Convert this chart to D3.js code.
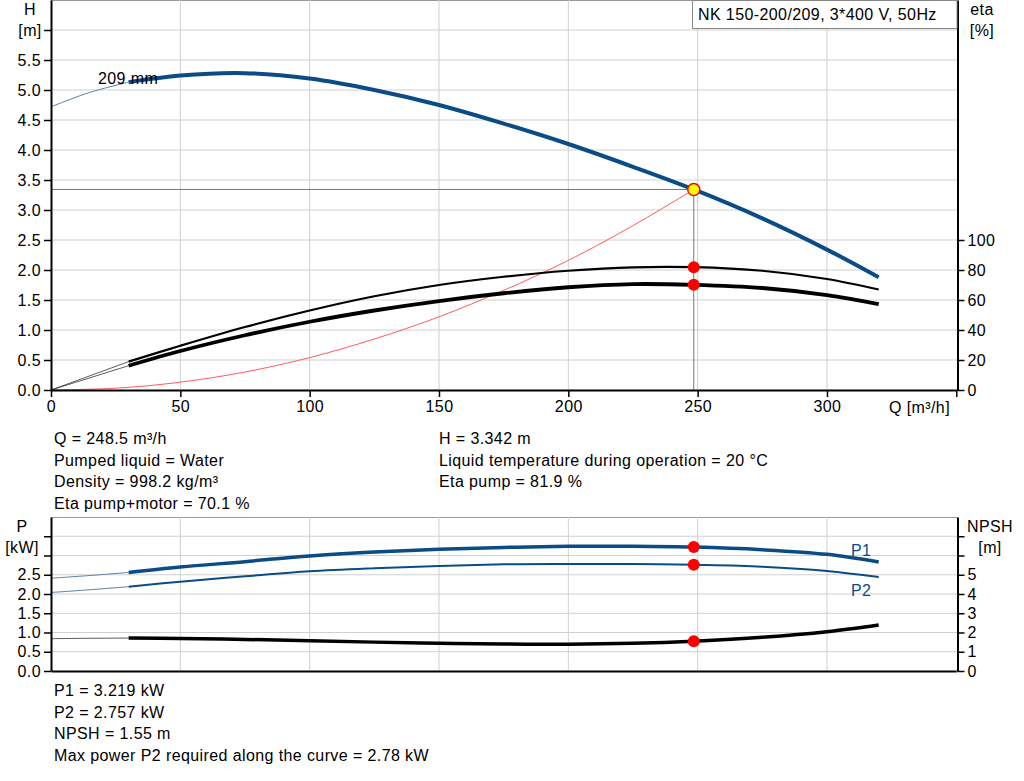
<!DOCTYPE html>
<html>
<head>
<meta charset="utf-8">
<script src="https://cdn.jsdelivr.net/npm/d3@7"></script>
<style>
  body { margin: 0; background: #fff; }
  svg { display: block; font-family: "Liberation Sans", Arial, sans-serif; }
  .grid line { stroke: #d0d0d0; stroke-width: 1; }
  .axis path, .axis line { stroke: #000; }
  .axis path { stroke-width: 2; }
  .axis line { stroke-width: 1.5; }
  .axis text { font-size: 16px; letter-spacing: 0.4px; fill: #000; font-family: "Liberation Sans", Arial, sans-serif; }
  .lbl { font-size: 16px; letter-spacing: 0.4px; fill: #000; }
</style>
</head>
<body>
<div id="chart"></div>
<script>
// flow points used by the curves (m3/h)
var qMain = [30, 50, 75, 100, 125, 150, 175, 200, 225, 248.5, 275, 300, 320];

// head curve (m), 209 mm impeller
var headMain = [5.13, 5.24, 5.28, 5.19, 5.00, 4.75, 4.44, 4.10, 3.72, 3.342, 2.86, 2.34, 1.88];
var qHeadExt = [0, 15, 30];
var headExt = [4.72, 4.96, 5.13];

// efficiencies (%)
var etaPump = [18.9, 29.5, 42, 53, 62.5, 70, 75.5, 79.5, 81.8, 81.9, 79.5, 74, 67];
var etaTotal = [16.2, 26, 36.5, 45.5, 53, 59.3, 64.5, 68.5, 70.6, 70.1, 68, 63.3, 57.3];
var qEtaExt = [0, 30];
var etaPumpExt = [0, 18.9];
var etaTotalExt = [0, 16.2];

// system curve (m)
var qSystem = [0, 25, 50, 75, 100, 125, 150, 175, 200, 225, 248.5];
var headSystem = [0, 0.03, 0.13, 0.30, 0.54, 0.85, 1.22, 1.66, 2.16, 2.74, 3.342];

// power (kW) and NPSH (m)
var p1Main = [2.56, 2.70, 2.84, 2.99, 3.09, 3.16, 3.21, 3.24, 3.24, 3.219, 3.15, 3.03, 2.83];
var p2Main = [2.19, 2.32, 2.46, 2.59, 2.67, 2.73, 2.77, 2.78, 2.78, 2.757, 2.71, 2.60, 2.44];
var npshMain = [1.71, 1.69, 1.64, 1.57, 1.50, 1.44, 1.40, 1.39, 1.44, 1.55, 1.75, 2.04, 2.39];
var qPowExt = [0, 15, 30];
var p1Ext = [2.41, 2.48, 2.56];
var p2Ext = [2.04, 2.11, 2.19];
var npshExt = [1.68, 1.70, 1.71];

// duty point
var dutyQ = 248.5, dutyH = 3.342, dutyEtaPump = 81.9, dutyEtaTotal = 70.1;
var dutyP1 = 3.219, dutyP2 = 2.757, dutyNpsh = 1.55;

// ticks
var qTicks = [0, 50, 100, 150, 200, 250, 300, 350];
var hTicks = [0, 0.5, 1, 1.5, 2, 2.5, 3, 3.5, 4, 4.5, 5, 5.5, 6];
var etaTicks = [0, 20, 40, 60, 80, 100];
var pTicks = [0, 0.5, 1, 1.5, 2, 2.5, 3, 3.5];
var npshTicks = [0, 1, 2, 3, 4, 5, 6, 7];

var infoLeft = ['Q = 248.5 m\u00b3/h', 'Pumped liquid = Water', 'Density = 998.2 kg/m\u00b3', 'Eta pump+motor = 70.1 %'];
var infoRight = ['H = 3.342 m', 'Liquid temperature during operation = 20 \u00b0C', 'Eta pump = 81.9 %'];
var infoBottom = ['P1 = 3.219 kW', 'P2 = 2.757 kW', 'NPSH = 1.55 m', 'Max power P2 required along the curve = 2.78 kW'];

var BLUE = '#0b4c86';
var THIN_BLUE = '#5d7ea3';

var svg = d3.select('#chart').append('svg')
  .attr('width', 1024)
  .attr('height', 781);

svg.append('rect').attr('width', 1024).attr('height', 781).attr('fill', '#fff');

var x = d3.scaleLinear().domain([0, 350]).range([51, 956.3]);
var xRight = 957.5;

// top chart
var yH = d3.scaleLinear().domain([0, 6.5]).range([390, 0]);
var yEta = d3.scaleLinear().domain([0, 260]).range([390, 0]);
// bottom chart
var yP = d3.scaleLinear().domain([0, 4]).range([671, 517]);
var yN = d3.scaleLinear().domain([0, 8]).range([671, 517]);

var zip = function(qs, vs) {
  return qs.map(function(q, i) { return {q: q, v: vs[i]}; });
};

var lineOn = function(yScale) {
  return d3.line()
    .curve(d3.curveCatmullRom.alpha(0.5))
    .x(function(d) { return x(d.q); })
    .y(function(d) { return yScale(d.v); });
};

// grids
var grid = svg.append('g').attr('class', 'grid');
grid.selectAll('.hg').data(hTicks.slice(1)).enter().append('line')
  .attr('x1', x(0)).attr('x2', xRight)
  .attr('y1', function(d) { return yH(d); }).attr('y2', function(d) { return yH(d); });
grid.append('line').attr('x1', x(0)).attr('x2', xRight).attr('y1', 0.5).attr('y2', 0.5).style('stroke', '#999');
grid.selectAll('.vg').data(qTicks.slice(1, 7)).enter().append('line')
  .attr('x1', function(d) { return x(d); }).attr('x2', function(d) { return x(d); })
  .attr('y1', 0).attr('y2', 390);

grid.selectAll('.pg').data(pTicks.slice(1)).enter().append('line')
  .attr('x1', x(0)).attr('x2', xRight)
  .attr('y1', function(d) { return yP(d); }).attr('y2', function(d) { return yP(d); });
grid.append('line').attr('x1', x(0)).attr('x2', xRight).attr('y1', 517.5).attr('y2', 517.5).style('stroke', '#999');
grid.selectAll('.vg2').data(qTicks.slice(1, 7)).enter().append('line')
  .attr('x1', function(d) { return x(d); }).attr('x2', function(d) { return x(d); })
  .attr('y1', 517).attr('y2', 671);

// duty point guide lines
svg.append('path')
  .attr('d', 'M' + x(0) + ',' + yH(dutyH) + 'H' + x(dutyQ) + 'V' + yH(0))
  .attr('fill', 'none').attr('stroke', '#777').attr('stroke-width', 1);

// system curve
svg.append('path').datum(zip(qSystem, headSystem))
  .attr('d', lineOn(yH))
  .attr('fill', 'none').attr('stroke', '#ff4a4a').attr('stroke-width', 0.9);

// head curve
svg.append('path').datum(zip(qHeadExt, headExt))
  .attr('d', lineOn(yH)).attr('fill', 'none').attr('stroke', THIN_BLUE).attr('stroke-width', 1);
svg.append('path').datum(zip(qMain, headMain))
  .attr('d', lineOn(yH)).attr('fill', 'none').attr('stroke', BLUE).attr('stroke-width', 4);

// efficiency curves
svg.append('path').datum(zip(qEtaExt, etaPumpExt))
  .attr('d', lineOn(yEta)).attr('fill', 'none').attr('stroke', '#333').attr('stroke-width', 0.8);
svg.append('path').datum(zip(qEtaExt, etaTotalExt))
  .attr('d', lineOn(yEta)).attr('fill', 'none').attr('stroke', '#333').attr('stroke-width', 0.8);
svg.append('path').datum(zip(qMain, etaPump))
  .attr('d', lineOn(yEta)).attr('fill', 'none').attr('stroke', '#000').attr('stroke-width', 2.2);
svg.append('path').datum(zip(qMain, etaTotal))
  .attr('d', lineOn(yEta)).attr('fill', 'none').attr('stroke', '#000').attr('stroke-width', 3.8);

// power and npsh curves
svg.append('path').datum(zip(qPowExt, p1Ext))
  .attr('d', lineOn(yP)).attr('fill', 'none').attr('stroke', THIN_BLUE).attr('stroke-width', 1);
svg.append('path').datum(zip(qPowExt, p2Ext))
  .attr('d', lineOn(yP)).attr('fill', 'none').attr('stroke', THIN_BLUE).attr('stroke-width', 1);
svg.append('path').datum(zip(qPowExt, npshExt))
  .attr('d', lineOn(yN)).attr('fill', 'none').attr('stroke', '#555').attr('stroke-width', 1);
svg.append('path').datum(zip(qMain, p1Main))
  .attr('d', lineOn(yP)).attr('fill', 'none').attr('stroke', BLUE).attr('stroke-width', 3.5);
svg.append('path').datum(zip(qMain, p2Main))
  .attr('d', lineOn(yP)).attr('fill', 'none').attr('stroke', BLUE).attr('stroke-width', 2);
svg.append('path').datum(zip(qMain, npshMain))
  .attr('d', lineOn(yN)).attr('fill', 'none').attr('stroke', '#000').attr('stroke-width', 3.5);

// duty markers
var redDots = [
  {cy: yEta(dutyEtaPump)}, {cy: yEta(dutyEtaTotal)},
  {cy: yP(dutyP1)}, {cy: yP(dutyP2)}, {cy: yN(dutyNpsh)}
];
svg.selectAll('.dot').data(redDots).enter().append('circle')
  .attr('cx', x(dutyQ)).attr('cy', function(d) { return d.cy; })
  .attr('r', 6).attr('fill', '#ff0000');
svg.append('circle')
  .attr('cx', x(dutyQ)).attr('cy', yH(dutyH)).attr('r', 6)
  .attr('fill', '#ffff00').attr('stroke', '#ff0000').attr('stroke-width', 1.5);

// axes
var fmt1 = d3.format('.1f');
svg.append('g').attr('class', 'axis')
  .attr('transform', 'translate(' + x(0) + ',0)')
  .call(d3.axisLeft(yH).tickValues(hTicks).tickSize(7).tickSizeOuter(0).tickPadding(3)
    .tickFormat(function(d) { return d <= 5.5 ? fmt1(d) : ''; }));
svg.append('g').attr('class', 'axis')
  .attr('transform', 'translate(' + xRight + ',0)')
  .call(d3.axisRight(yEta).tickValues(etaTicks).tickSize(7).tickSizeOuter(0).tickPadding(3));
svg.append('g').attr('class', 'axis')
  .attr('transform', 'translate(0,390)')
  .call(d3.axisBottom(x).tickValues(qTicks).tickSize(7).tickSizeOuter(0).tickPadding(4)
    .tickFormat(function(d) { return d < 350 ? d : ''; }));

svg.append('g').attr('class', 'axis')
  .attr('transform', 'translate(' + x(0) + ',0)')
  .call(d3.axisLeft(yP).tickValues(pTicks).tickSize(7).tickSizeOuter(0).tickPadding(3)
    .tickFormat(function(d) { return d <= 2.5 ? fmt1(d) : ''; }));
svg.append('g').attr('class', 'axis')
  .attr('transform', 'translate(' + xRight + ',0)')
  .call(d3.axisRight(yN).tickValues(npshTicks).tickSize(7).tickSizeOuter(0).tickPadding(3)
    .tickFormat(function(d) { return d <= 5 ? d : ''; }));
svg.append('g').attr('class', 'axis')
  .attr('transform', 'translate(0,671)')
  .call(d3.axisBottom(x).tickValues([]).tickSizeOuter(0));

// axis titles
var label = function(tx, ty, s, anchor, color) {
  svg.append('text').attr('class', 'lbl')
    .attr('x', tx).attr('y', ty)
    .attr('text-anchor', anchor || 'start')
    .style('fill', color || '#000')
    .text(s);
};
label(30, 15, 'H', 'middle');
label(30, 36, '[m]', 'middle');
label(982, 15, 'eta', 'middle');
label(982, 36, '[%]', 'middle');
label(889, 413, 'Q [m\u00b3/h]');
label(98, 84, '209 mm');
label(22, 532, 'P', 'middle');
label(22, 553, '[kW]', 'middle');
label(990, 532, 'NPSH', 'middle');
label(990, 553, '[m]', 'middle');
label(851, 556, 'P1', 'start', BLUE);
label(851, 596, 'P2', 'start', BLUE);

// title box
svg.append('rect')
  .attr('x', 692.5).attr('y', 0.5).attr('width', xRight - 693).attr('height', 28)
  .attr('fill', '#fff').attr('stroke', '#888');
label(698, 20, 'NK 150-200/209, 3*400 V, 50Hz');

// info text
infoLeft.forEach(function(s, i) { label(54, 444 + i * 21.5, s); });
infoRight.forEach(function(s, i) { label(439, 444 + i * 21.5, s); });
infoBottom.forEach(function(s, i) { label(54, 696 + i * 21.5, s); });
</script>
</body>
</html>
